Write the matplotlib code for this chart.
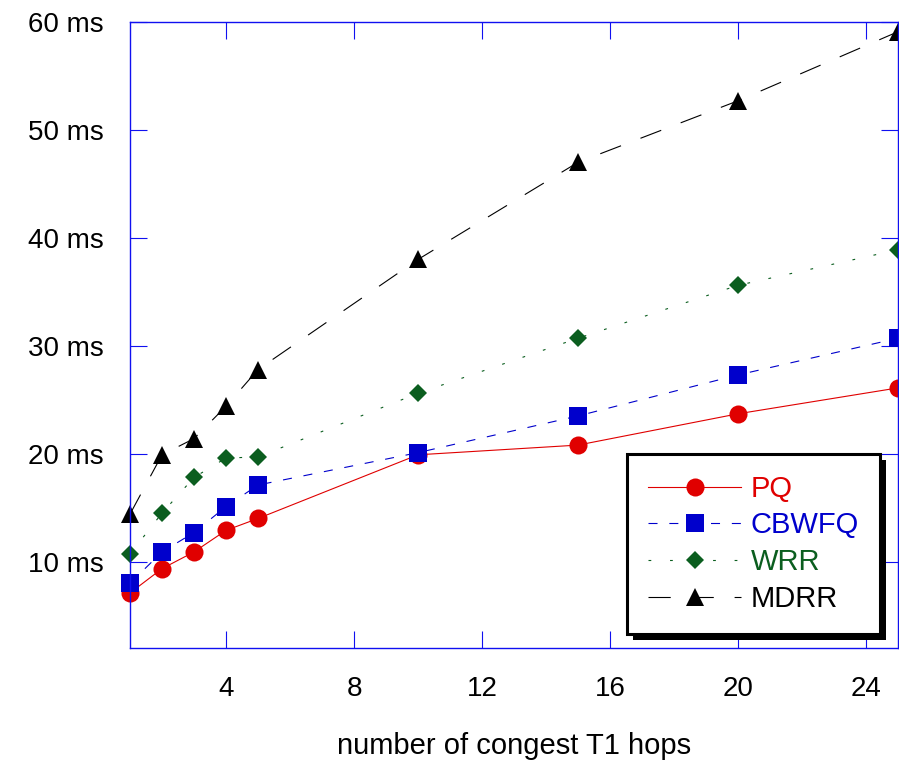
import matplotlib
matplotlib.use("Agg")
import matplotlib.pyplot as plt
from matplotlib.patches import Rectangle
from matplotlib.transforms import IdentityTransform

HOPS = [1, 2, 3, 4, 5, 10, 15, 20, 25]
PQ = [7.1, 9.35, 10.9, 12.9, 14.0, 19.9, 20.8, 23.7, 26.1]
CBWFQ = [8.0, 10.9, 12.7, 15.1, 17.1, 20.1, 23.5, 27.3, 30.7]
WRR = [10.7, 14.5, 17.8, 19.6, 19.7, 25.6, 30.7, 35.6, 38.9]
MDRR = [14.4, 19.9, 21.4, 24.4, 27.8, 38.0, 47.0, 52.7, 59.1]

X_TICKS = [4, 8, 12, 16, 20, 24]
Y_TICKS = [10, 20, 30, 40, 50, 60]
Y_LABELS = [f"{v} ms" for v in Y_TICKS]

plt.rcParams["font.family"] = ["Liberation Sans", "DejaVu Sans"]
plt.rcParams["lines.scale_dashes"] = False

fig = plt.figure(figsize=(8.99, 7.6), dpi=100)
ax = fig.add_axes([130 / 899, 112 / 760, 768 / 899, 626 / 760])

series = [
    ("PQ", PQ, "#e00000", "-", "o", 13.0),
    ("CBWFQ", CBWFQ, "#0000cc", (0, (6.5, 8.5)), "s", 12.5),
    ("WRR", WRR, "#0b5e1f", (0, (2, 13.5)), "D", 9.2),
    ("MDRR", MDRR, "black", (0, (16, 15)), "^", 13.0),
]
for name, vals, color, ls, marker, ms in series:
    ax.plot(HOPS, vals, color=color, linestyle=ls, lw=0.8, marker=marker,
            markersize=ms, markeredgewidth=0, label=name, clip_on=False)

ax.set_xlim(1, 25)
ax.set_ylim(2, 60)
ax.set_xticks(X_TICKS)
ax.set_yticks(Y_TICKS)
ax.set_yticklabels(Y_LABELS)

for sp in ax.spines.values():
    sp.set_color("#1010f0")
    sp.set_linewidth(1.0)
ax.tick_params(direction="in", length=12, width=0.8, color="#1010f0",
               top=True, right=True, labelsize=20)
ax.tick_params(axis="y", pad=19)
ax.tick_params(axis="x", pad=20)
ax.set_xlabel("number of congest T1 hops", fontsize=21, labelpad=22)

leg = ax.legend(loc="lower left", bbox_to_anchor=(0.647, 0.0224),
                borderaxespad=0, fontsize=21, labelcolor="linecolor",
                handlelength=3.2, handletextpad=0.32, borderpad=0.72,
                labelspacing=0.3, fancybox=False, framealpha=1,
                edgecolor="black")
leg.get_frame().set_linewidth(2.2)
leg.set_zorder(6)

fig.canvas.draw()
bb = leg.get_window_extent()
shadow = Rectangle((bb.x0 + 6, bb.y0 - 6), bb.width, bb.height,
                   transform=IdentityTransform(), facecolor="black",
                   edgecolor="none", zorder=5.5, clip_on=False)
ax.add_artist(shadow)

fig.savefig("out.png", dpi=100)
